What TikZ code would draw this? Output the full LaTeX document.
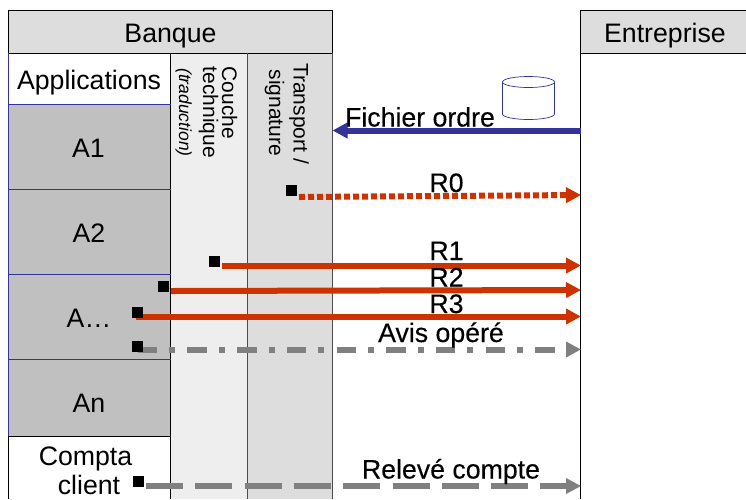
\documentclass[tikz,border=0pt]{standalone}
\usepackage{fontspec}
\setmainfont{Liberation Sans}
\newfontfamily\flowfont[FakeBold=0.25]{Liberation Sans}
\usetikzlibrary{arrows.meta,calc}
\pgfdeclarelayer{back}
\pgfsetlayers{back,main}
\definecolor{navy}{HTML}{333399}
\definecolor{rust}{HTML}{CC3300}
\definecolor{midgray}{HTML}{808080}
\definecolor{appgray}{HTML}{C0C0C0}
\definecolor{headgray}{HTML}{DDDDDD}
\definecolor{palegray}{HTML}{EEEEEE}
\tikzset{
  x=1pt,y=-1pt,
  lab/.style={anchor=base,inner sep=0pt,font=\fontsize{26.7}{30}\selectfont},
  flowlab/.style={anchor=base,inner sep=0pt,font=\flowfont\fontsize{26.7}{30}\selectfont},
  vlabA/.style={anchor=base west,rotate=-90,inner sep=0pt,font=\fontsize{21}{24}\selectfont},
  vlabB/.style={anchor=base west,rotate=-90,inner sep=0pt,font=\fontsize{17.5}{20}\selectfont\itshape},
  mark box/.style={fill=black,inner sep=0pt,minimum size=11pt},
  flow/.style={line width=6pt,-{Triangle[length=15pt,width=15pt]}},
  redflow/.style={flow,draw=rust},
  grayflow/.style={flow,draw=midgray},
}
\begin{document}
\begin{tikzpicture}
\useasboundingbox (0,0) rectangle (746,499);
% squares (on top of everything)
\node[mark box] (s0) at (291,190) {};
\node[mark box] (s1) at (214.5,261) {};
\node[mark box] (s2) at (163.5,286.5) {};
\node[mark box] (s3) at (137.7,312.5) {};
\node[mark box] (s4) at (137.7,346.5) {};
\node[mark box] (s5) at (138.5,481.5) {};
\begin{pgfonlayer}{back}
% backgrounds
\fill[appgray] (8.5,104) rectangle (170.5,436);
\fill[palegray] (170.5,53) rectangle (247,499);
\fill[headgray] (247,53) rectangle (332.5,499);
\fill[headgray] (8.5,10.5) rectangle (332.5,53);
\fill[headgray] (580,10.5) rectangle (746,53);
% frame lines
\draw[black,line width=0.8pt] (8.5,10.5) rectangle (332.5,53);
\draw[black,line width=0.8pt] (746,10.5) -- (580,10.5) -- (580,499);
\draw[black,line width=0.8pt] (580,53) -- (746,53);
\draw[black,line width=0.8pt] (170.5,53) -- (170.5,499);
\draw[black!70,line width=0.8pt] (247,53) -- (247,499);
\draw[black!70,line width=0.8pt] (332.5,53) -- (332.5,499);
\draw[black,line width=0.8pt] (8.5,436) -- (170.5,436);
\draw[black,line width=0.8pt] (8.5,436) -- (8.5,499);
\draw[navy,line width=0.7pt] (8.5,53) -- (8.5,436);
\foreach \yy in {104,189,274,359} \draw[navy,line width=0.7pt] (8.5,\yy) -- (170.5,\yy);
% database
\draw[navy,line width=0.7pt,fill=white] (502.5,82) -- (502.5,114) arc[start angle=180,end angle=360,x radius=26pt,y radius=5.5pt] -- (554.5,82);
\draw[navy,line width=0.7pt,fill=white] (528.5,82) ellipse[x radius=26pt,y radius=5.5pt];
% connector free ends
\coordinate (e0) at (581,195);
\coordinate (e1) at (581,265.5);
\coordinate (e2) at (581,290);
\coordinate (e3) at (581,316.5);
\coordinate (e4) at (581,349.5);
\coordinate (e5) at (581,486);
\coordinate (fa) at (581,130.5);
\coordinate (fb) at (332.5,130.5);
% connectors
\draw[flow,draw=navy] (fa) -- (fb);
\draw[redflow,dash pattern=on 6pt off 3pt] ($(s0)+(8,7)$) -- (e0);
\draw[redflow] ($(s1)+(7.5,4.5)$) -- (e1);
\draw[redflow] ($(s2)+(7.5,4.5)$) -- (e2);
\draw[redflow] ($(s3)+(-2,4)$) -- (e3);
\draw[grayflow,dash pattern=on 19.5pt off 12pt on 6pt off 12.2pt] ($(s4)+(0,3)$) -- (e4);
\draw[grayflow,dash pattern=on 37pt off 12.3pt] ($(s5)+(7.5,4.5)$) -- (e5);
% texts
\node[lab] (banque) at (170.5,42) {Banque};
\node[lab] (entreprise) at (665,42) {Entreprise};
\node[lab] (apps) at (89,89) {Applications};
\node[lab] (a1) at (88.5,157.5) {A1};
\node[lab] (a2) at (89,242.5) {A2};
\node[lab] (ax) at (89,327.5) {A…};
\node[lab] (an) at (89,412.5) {An};
\node[lab] (compta) at (85.5,465.5) {Compta};
\node[lab] (client) at (89,494.5) {client};
\node[vlabA] (couche) at (222,66.5) {Couche};
\node[vlabA] (technique) at (203,66.5) {technique};
\node[vlabB] (trad) at (179,68) {(traduction)};
\node[vlabA] (transport) at (293.5,63) {Transport /};
\node[vlabA] (signature) at (269,69.5) {signature};
\node[flowlab] (fichier) at (420,126.5) {Fichier ordre};
\node[flowlab] (r0) at (446.5,192) {R0};
\node[flowlab] (r1) at (446.5,260) {R1};
\node[flowlab] (r2) at (446.5,286.5) {R2};
\node[flowlab] (r3) at (446.5,313) {R3};
\node[flowlab] (avis) at (441,342) {Avis opéré};
\node[flowlab] (releve) at (451,478.5) {Relevé compte};
\end{pgfonlayer}
\end{tikzpicture}
\end{document}
